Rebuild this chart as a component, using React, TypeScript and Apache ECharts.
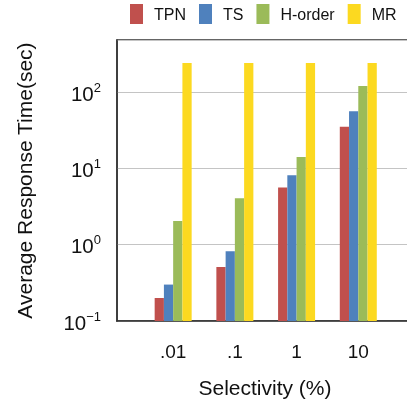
import React, { useEffect, useRef } from "react";
import * as echarts from "echarts";

const categories = [".01", ".1", "1", "10"];
const categoryPositions = [1, 2, 3, 4];
const seriesNames = ["TPN", "TS", "H-order", "MR"];
const tpnValues = [0.2, 0.51, 5.6, 35];
const tsValues = [0.3, 0.82, 8.1, 56];
const horderValues = [2.04, 4.05, 14.1, 120];
const mrValues = [240, 240, 240, 240];
const colors = ["#C0504D", "#4F81BD", "#9BBB59", "#FCD920"];

const FONT = "Liberation Sans, Arial, Helvetica, sans-serif";

export default function App() {
  const ref = useRef<HTMLDivElement>(null);
  useEffect(() => {
    if (!ref.current) return;
    const chart = echarts.init(ref.current, undefined, { renderer: "svg" });
    const allValues = [tpnValues, tsValues, horderValues, mrValues];
    const series = seriesNames.map((name, i) => ({
      name,
      type: "bar",
      barWidth: 9.25,
      barGap: "0%",
      itemStyle: { color: colors[i] },
      data: categoryPositions.map((x, j) => [x, allValues[i][j]]),
    }));
    chart.setOption({
      animation: false,
      textStyle: { fontFamily: FONT },
      legend: {
        data: seriesNames,
        left: 130,
        top: 4,
        padding: 0,
        itemWidth: 13,
        itemHeight: 20,
        itemGap: 13,
        icon: "rect",
        textStyle: { fontSize: 16, color: "#111", fontFamily: FONT, padding: [6, 0, 0, 6] },
      },
      grid: {
        left: 117,
        top: 40,
        width: 303,
        height: 281,
        show: true,
        borderColor: "#333",
        borderWidth: 1.5,
        containLabel: false,
        outerBoundsMode: "none",
      },
      xAxis: {
        type: "value",
        min: 0.09,
        max: 5,
        minInterval: 1,
        maxInterval: 1,
        splitLine: { show: false },
        axisTick: { show: false },
        axisLine: { show: true, onZero: false, lineStyle: { color: "#333", width: 1.5 } },
        axisLabel: {
          fontSize: 19,
          color: "#111",
          fontFamily: FONT,
          margin: 21,
          formatter: (v: number) => {
            const idx = categoryPositions.indexOf(v);
            return idx >= 0 ? categories[idx] : "";
          },
        },
        name: "Selectivity (%)",
        nameLocation: "middle",
        nameGap: 56,
        nameTextStyle: { fontSize: 21, color: "#111", fontFamily: FONT, padding: [0, 7, 0, 0] },
      },
      yAxis: {
        type: "log",
        logBase: 10,
        min: 0.1,
        max: 480,
        startValue: 0.1,
        axisTick: { show: false },
        axisLine: { show: true, lineStyle: { color: "#333", width: 1.5 } },
        splitLine: { show: true, lineStyle: { color: "#c4c4c4", width: 1.2 } },
        axisLabel: {
          margin: 16,
          color: "#111",
          fontFamily: FONT,
          formatter: (v: number) => {
            const l = Math.log10(v);
            const e = Math.round(l);
            if (Math.abs(l - e) > 1e-6) return "";
            const s = e < 0 ? "\u2212" + -e : String(e);
            return "{b|10}{s|" + s + "}";
          },
          rich: {
            b: { fontSize: 20.5, color: "#111", fontFamily: FONT, verticalAlign: "bottom" },
            s: { fontSize: 13, color: "#111", fontFamily: FONT, verticalAlign: "top", padding: [0, 0, 10, 0] },
          },
        },
        name: "Average Response Time(sec)",
        nameLocation: "middle",
        nameGap: 82,
        nameTextStyle: { fontSize: 21, color: "#111", fontFamily: FONT },
      },
      series,
    });
    return () => chart.dispose();
  }, []);
  return <div ref={ref} style={{ position: "fixed", left: 0, top: 0, width: 407, height: 404 }} />;
}
